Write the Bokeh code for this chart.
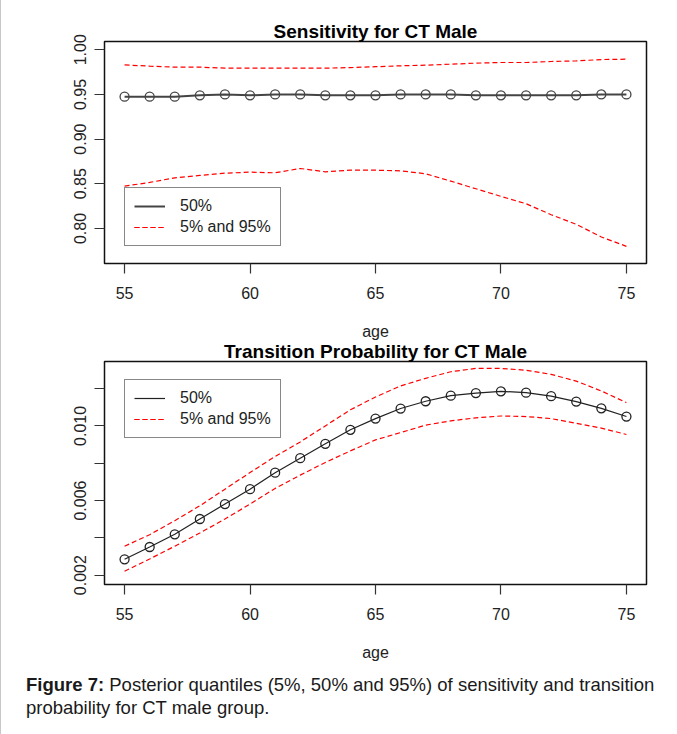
import math
from bokeh.plotting import figure
from bokeh.models import Range1d, Legend, LegendItem, Div, FixedTicker, NumeralTickFormatter
from bokeh.layouts import column
from bokeh.embed import file_html
from bokeh.resources import INLINE

# ---------------- data ----------------
age = list(range(55, 76))

sens_median = [0.9475, 0.9475, 0.9475, 0.949, 0.950, 0.949, 0.950, 0.950, 0.949, 0.949, 0.949,
               0.950, 0.950, 0.950, 0.949, 0.949, 0.949, 0.949, 0.949, 0.950, 0.950]
sens_upper = [0.983, 0.9816, 0.9805, 0.9805, 0.9794, 0.9794, 0.9794, 0.9794, 0.9794, 0.980, 0.981,
              0.982, 0.9827, 0.9838, 0.985, 0.9857, 0.9857, 0.9868, 0.9875, 0.989, 0.9894]
sens_lower = [0.8474, 0.8515, 0.8567, 0.8593, 0.8619, 0.863, 0.8623, 0.8671, 0.8634, 0.8652, 0.8652,
              0.8645, 0.8612, 0.853, 0.8444, 0.8359, 0.8277, 0.8154, 0.8046, 0.7905, 0.780]

trans_median = [0.00285, 0.00351, 0.00419, 0.00501, 0.00581, 0.00661, 0.00749, 0.00827, 0.00904,
                0.00979, 0.01039, 0.01093, 0.01132, 0.01162, 0.01176, 0.01185, 0.01178, 0.01159,
                0.01130, 0.01094, 0.0105]
trans_upper = [0.00355, 0.00417, 0.00492, 0.00572, 0.00661, 0.0075, 0.00836, 0.00914, 0.0100,
               0.01086, 0.01155, 0.01214, 0.01255, 0.0129, 0.01308, 0.01308, 0.01298, 0.01276,
               0.0124, 0.01187, 0.01125]
trans_lower = [0.00221, 0.00287, 0.00355, 0.00426, 0.00501, 0.00581, 0.00665, 0.00736, 0.00804,
               0.00866, 0.00925, 0.00964, 0.01004, 0.01027, 0.01043, 0.01053, 0.0105, 0.01039,
               0.01014, 0.00988, 0.00954]

x_ticks = [55, 60, 65, 70, 75]
sens_ticks = [0.80, 0.85, 0.90, 0.95, 1.00]
trans_ticks = [0.002, 0.004, 0.006, 0.008, 0.010, 0.012]
trans_tick_labels = {0.002: "0.002", 0.004: "", 0.006: "0.006", 0.008: "", 0.010: "0.010", 0.012: ""}

legend_labels = ["50%", "5% and 95%"]
titles = ["Sensitivity for CT Male", "Transition Probability for CT Male"]
x_label = "age"
caption_bold = "Figure 7:"
caption_line1 = "Posterior quantiles (5%, 50% and 95%) of sensitivity and transition"
caption_line2 = "probability for CT male group."

FONT = "Liberation Sans"
TXT = "#222222"


def make_panel(title, median, upper, lower, y_range, yticks, ylabels, height, top, bottom,
               legend_y, med_width, med_color, margin=None, transparent=False):
    kw = {}
    if margin is not None:
        kw["margin"] = margin
    p = figure(width=677, height=height, output_backend="svg", toolbar_location=None,
               x_range=Range1d(54.2, 75.8), y_range=Range1d(*y_range),
               min_border_left=103, min_border_right=32, min_border_top=top,
               min_border_bottom=bottom, **kw)
    p.title.text = title
    p.title.align = "center"
    p.title.text_font = FONT
    p.title.text_font_size = "19px"
    p.title.text_font_style = "bold"
    p.title.text_color = "black"
    p.title.standoff = 0
    p.title.offset = 0
    p.grid.visible = False
    p.outline_line_color = "#111111"
    p.outline_line_width = 1.5
    p.background_fill_color = "white"
    if transparent:
        p.border_fill_color = None
        p.border_fill_alpha = 0
    else:
        p.border_fill_color = "white"

    for ax in (p.xaxis[0], p.yaxis[0]):
        ax.axis_line_color = None
        ax.major_tick_in = 0
        ax.major_tick_out = 10
        ax.major_tick_line_color = "#333333"
        ax.major_tick_line_width = 1.2
        ax.minor_tick_line_color = None
        ax.major_label_text_font = FONT
        ax.major_label_text_font_size = "16px"
        ax.major_label_text_color = TXT
    p.xaxis.ticker = FixedTicker(ticks=x_ticks)
    p.xaxis.major_label_standoff = 13
    p.xaxis.axis_label = x_label
    p.xaxis.axis_label_text_font = FONT
    p.xaxis.axis_label_text_font_size = "16px"
    p.xaxis.axis_label_text_font_style = "normal"
    p.xaxis.axis_label_text_color = TXT
    p.xaxis.axis_label_standoff = 21

    p.yaxis.ticker = FixedTicker(ticks=yticks)
    p.yaxis.major_label_orientation = "vertical"
    p.yaxis.major_label_standoff = 8
    if ylabels is not None:
        p.yaxis.major_label_overrides = ylabels
    else:
        p.yaxis.formatter = NumeralTickFormatter(format="0.00")

    r_up = p.line(age, upper, line_color="red", line_width=1.2, line_dash="5 3")
    r_lo = p.line(age, lower, line_color="red", line_width=1.2, line_dash="5 3")
    r_med = p.line(age, median, line_color=med_color, line_width=med_width)
    p.scatter(age, median, marker="circle", size=9, fill_color=None,
              line_color=med_color, line_width=1.3)

    legend = Legend(items=[LegendItem(label=legend_labels[0], renderers=[r_med]),
                           LegendItem(label=legend_labels[1], renderers=[r_up, r_lo])],
                    location=(20, legend_y))
    legend.border_line_color = "#111111"
    legend.border_line_width = 1.3
    legend.background_fill_color = "white"
    legend.background_fill_alpha = 1.0
    legend.padding = 9
    legend.spacing = 3
    legend.glyph_width = 31
    legend.glyph_height = 18
    legend.label_height = 18
    legend.label_standoff = 15
    legend.label_text_font = FONT
    legend.label_text_font_size = "16px"
    legend.label_text_color = TXT
    legend.margin = 0
    p.add_layout(legend)
    return p


p1 = make_panel(titles[0], sens_median, sens_upper, sens_lower, (0.7608, 1.0092),
                sens_ticks, None, 345, 41, 82, 17, 2.0, "#444444")
p2 = make_panel(titles[1], trans_median, trans_upper, trans_lower, (0.0015, 0.01345),
                trans_ticks, trans_tick_labels, 331, 24, 84, 146, 1.2, "#222222",
                margin=(-8, 0, 0, 0), transparent=True)

cap = Div(text=(f"<b>{caption_bold}</b> <span>{caption_line1}</span><br>"
                f"<span>{caption_line2}</span>"),
          width=660, height=66,
          styles={"font-family": "'Liberation Sans', Arial, sans-serif", "font-size": "18.5px",
                  "line-height": "23px", "color": "#1a1a1a", "padding-left": "20px",
                  "padding-top": "0px", "white-space": "nowrap"})

layout = column(p1, p2, cap, spacing=0,
                styles={"border-left": "1px solid #c8c8c8", "border-bottom": "1px solid #c8c8c8",
                        "border-bottom-left-radius": "10px"})

open("out.html", "w").write(file_html(layout, INLINE))
